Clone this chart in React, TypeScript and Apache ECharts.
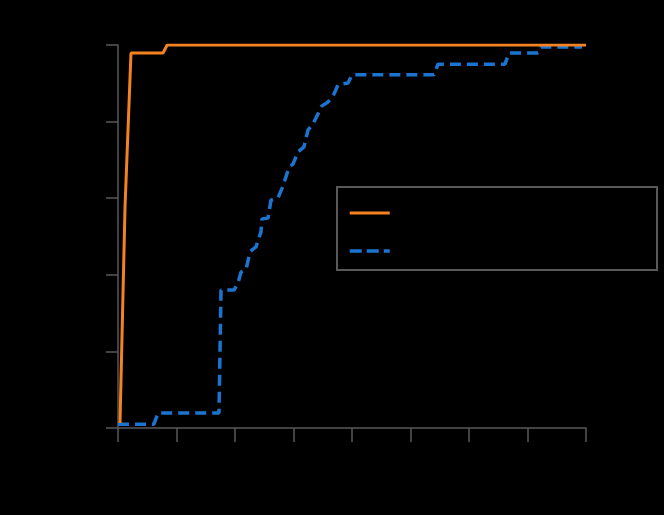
import React, { useEffect, useRef } from "react";
import * as echarts from "echarts";

const seriesNames = ["Proposed", "Baseline"];
const xTicks = [0, 1, 2, 3, 4, 5, 6, 7, 8];
const yTicks = [0, 0.2, 0.4, 0.6, 0.8, 1];

const orangeData: [number, number][] = [
  [0.034, 0.013],
  [0.12, 0.577],
  [0.222, 0.979],
  [0.77, 0.979],
  [0.84, 1.0],
  [8.0, 1.0],
];

const blueData: [number, number][] = [
  [0.0, 0.01],
  [0.615, 0.01],
  [0.684, 0.039],
  [1.726, 0.039],
  [1.761, 0.36],
  [1.983, 0.36],
  [2.051, 0.379],
  [2.103, 0.407],
  [2.188, 0.413],
  [2.256, 0.46],
  [2.359, 0.473],
  [2.444, 0.512],
  [2.462, 0.546],
  [2.564, 0.548],
  [2.615, 0.595],
  [2.735, 0.601],
  [2.821, 0.632],
  [2.923, 0.681],
  [2.991, 0.689],
  [3.077, 0.721],
  [3.179, 0.734],
  [3.248, 0.778],
  [3.333, 0.794],
  [3.487, 0.841],
  [3.59, 0.851],
  [3.692, 0.872],
  [3.761, 0.896],
  [3.932, 0.901],
  [4.0, 0.922],
  [5.402, 0.922],
  [5.47, 0.95],
  [6.615, 0.95],
  [6.684, 0.979],
  [7.179, 0.979],
  [7.231, 0.995],
  [7.932, 0.995],
];

export default function App() {
  const ref = useRef<HTMLDivElement>(null);
  useEffect(() => {
    document.body.style.margin = "0";
    document.body.style.background = "#000";
    const chart = echarts.init(ref.current!, null, { renderer: "svg" });
    const axisColor = "#595959";
    const orange = "#F58220";
    const blue = "#1B75D0";
    chart.setOption({
      animation: false,
      backgroundColor: "#000",
      grid: { left: 118, right: 78, top: 45, bottom: 87 },
      xAxis: {
        type: "value",
        min: xTicks[0],
        max: xTicks[xTicks.length - 1],
        interval: 1,
        axisLine: { lineStyle: { color: axisColor, width: 1.5 } },
        axisTick: { show: true, length: 14, lineStyle: { color: axisColor, width: 1.5 } },
        axisLabel: { color: "#000", fontFamily: "Liberation Sans", fontSize: 14, margin: 18 },
        splitLine: { show: false },
      },
      yAxis: {
        type: "value",
        min: yTicks[0],
        max: yTicks[yTicks.length - 1],
        interval: 0.2,
        axisLine: { show: true, lineStyle: { color: axisColor, width: 1.5 } },
        axisTick: { show: true, length: 12, lineStyle: { color: axisColor, width: 1.5 } },
        axisLabel: { color: "#000", fontFamily: "Liberation Sans", fontSize: 14, margin: 16 },
        splitLine: { show: false },
      },
      legend: {
        orient: "vertical",
        left: 348,
        top: 206,
        padding: 0,
        itemWidth: 40,
        itemHeight: 14,
        itemGap: 24,
        itemStyle: { opacity: 0 },
        textStyle: { color: "#000", fontFamily: "Liberation Sans", fontSize: 14 },
        data: [
          { name: seriesNames[0], lineStyle: { color: orange, width: 3, type: "solid" } },
          { name: seriesNames[1], lineStyle: { color: blue, width: 3.5, type: [12, 5] } },
        ],
      },
      graphic: [
        {
          type: "rect",
          shape: { x: 337, y: 187, width: 320, height: 83 },
          style: { fill: "none", stroke: axisColor, lineWidth: 2 },
          z: 0,
        },
      ],
      series: [
        {
          name: seriesNames[0],
          type: "line",
          data: orangeData,
          symbol: "none",
          lineStyle: { color: orange, width: 3 },
          itemStyle: { color: orange },
          z: 3,
        },
        {
          name: seriesNames[1],
          type: "line",
          data: blueData,
          symbol: "none",
          lineStyle: { color: blue, width: 3.5, type: [11, 6] },
          itemStyle: { color: blue },
          z: 2,
        },
      ],
    });
    return () => chart.dispose();
  }, []);
  return <div ref={ref} style={{ width: 664, height: 515 }} />;
}
